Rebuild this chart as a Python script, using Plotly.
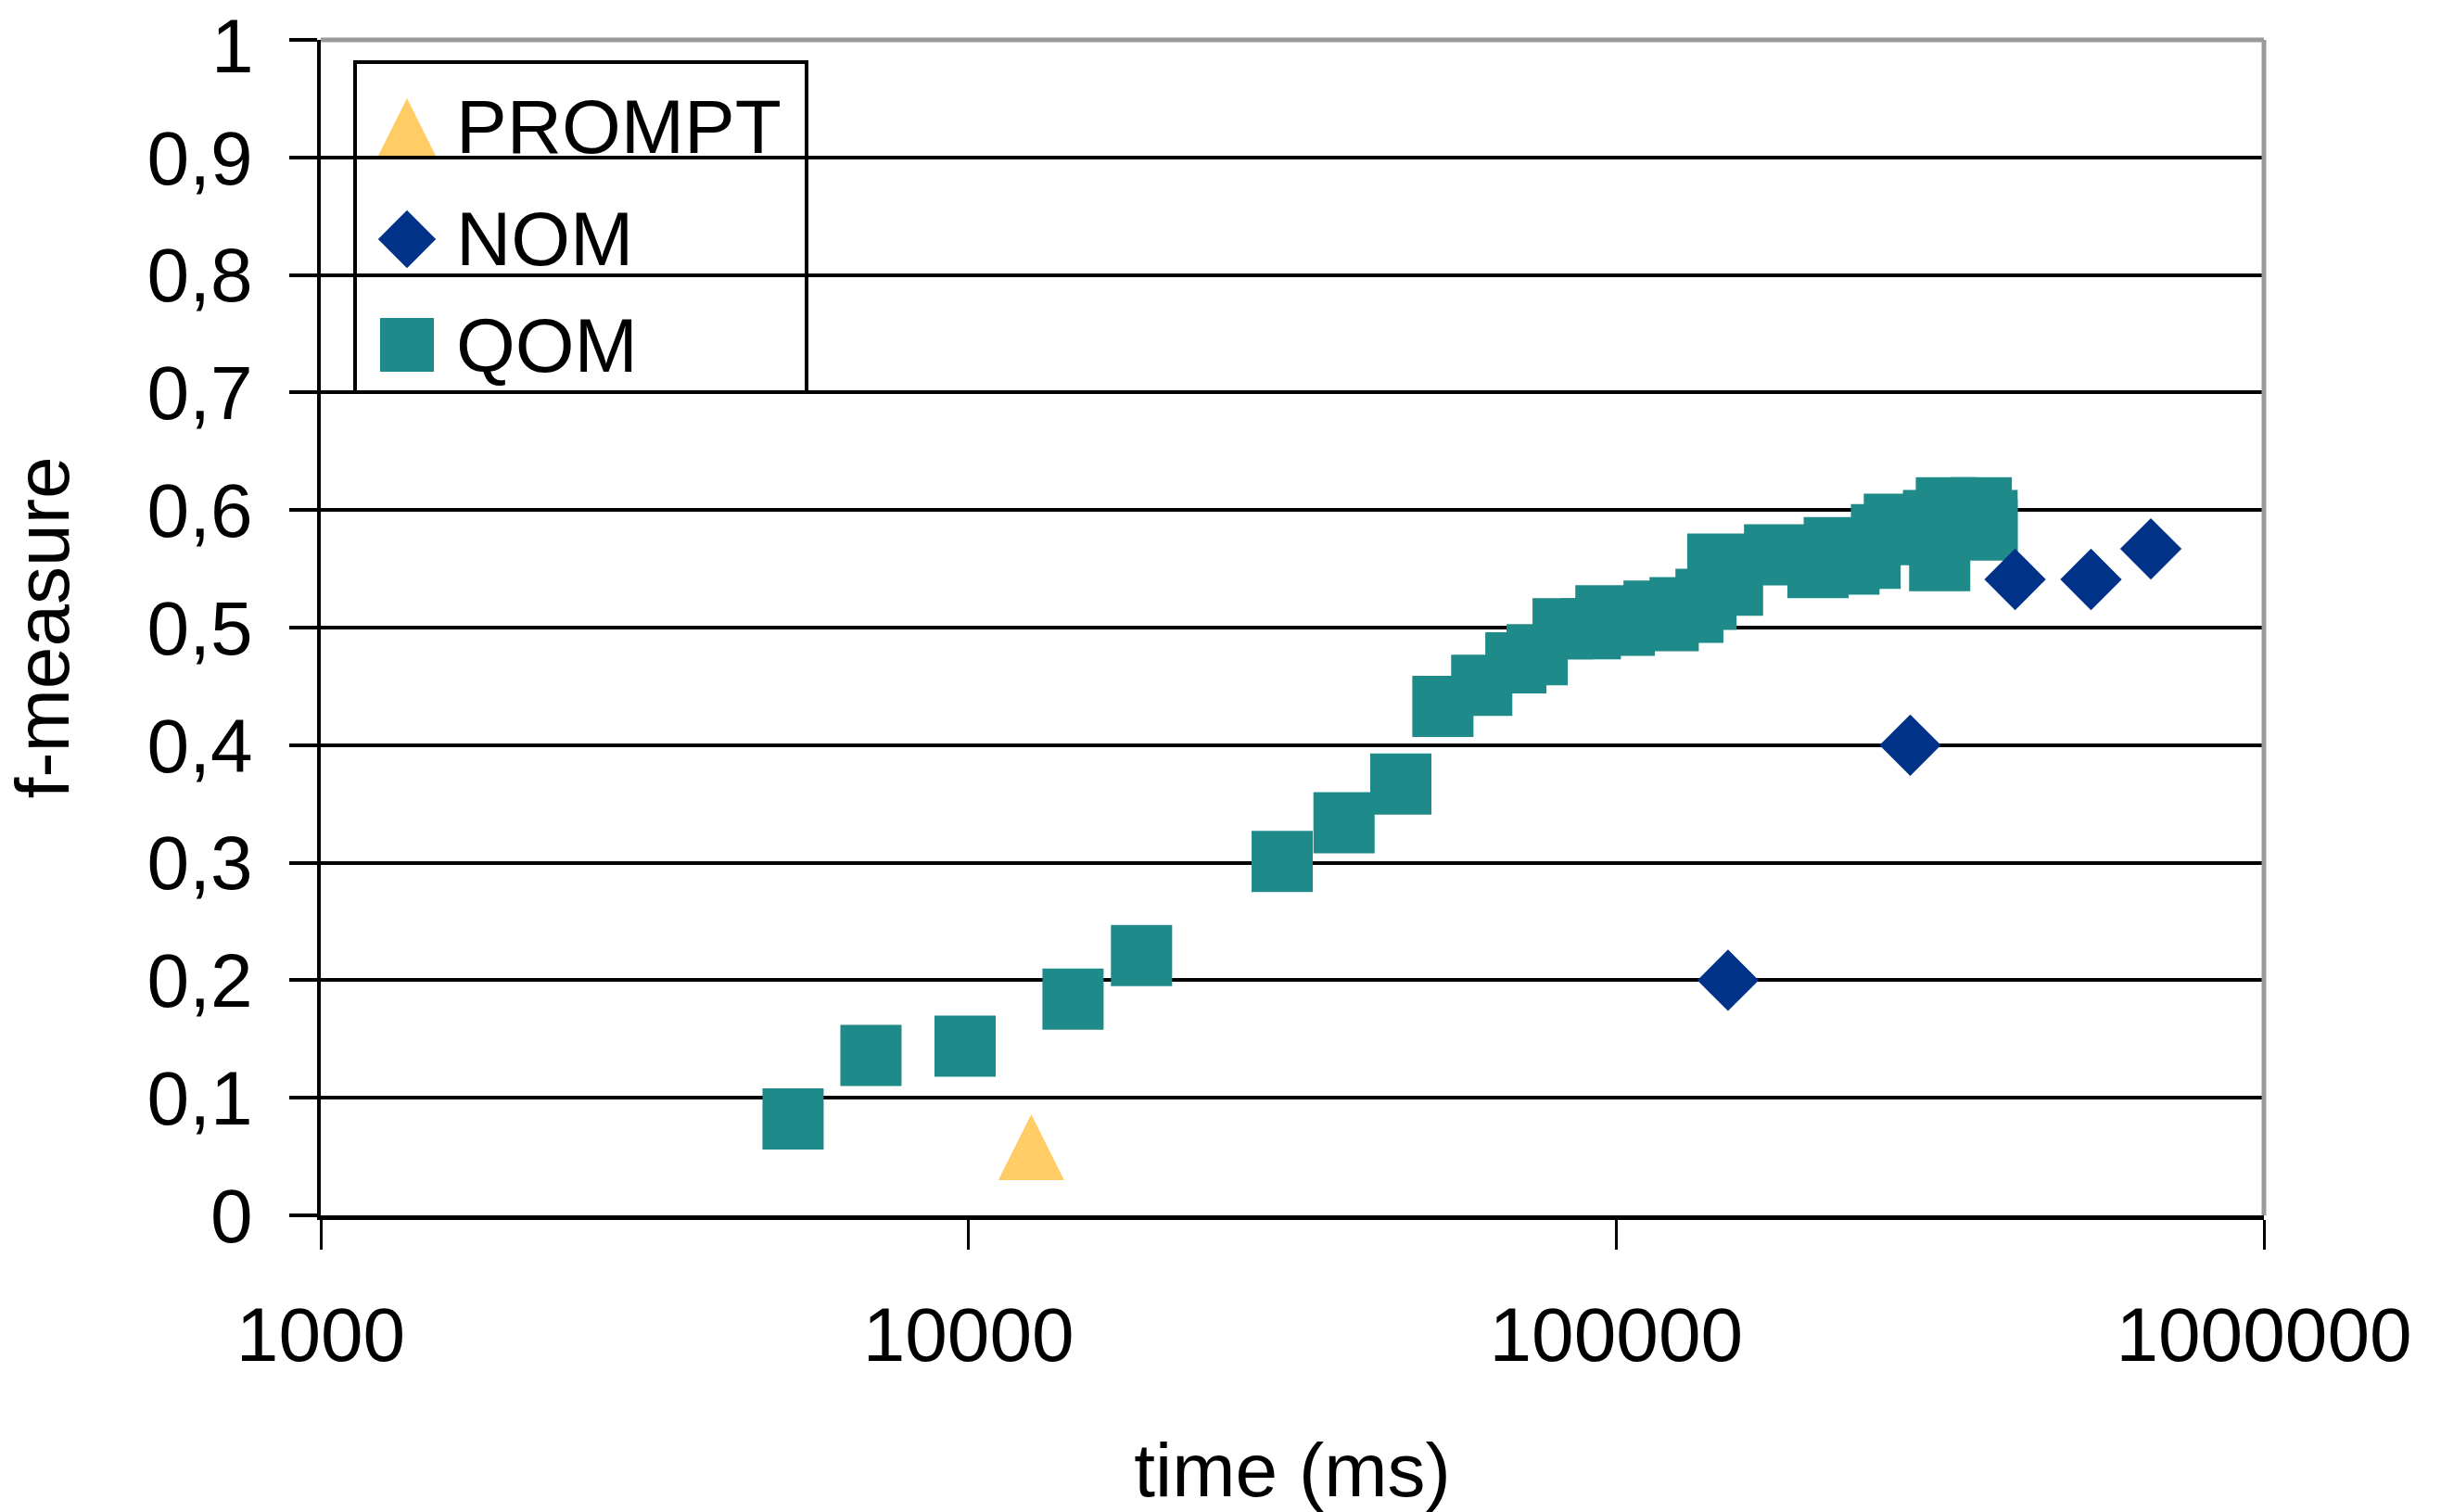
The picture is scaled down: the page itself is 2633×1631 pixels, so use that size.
import plotly.graph_objects as go

# ---------------- data ----------------
prompt_time = [12500]
prompt_f = [0.058]

nom_time = [148800, 284400, 412900, 540800, 669000]
nom_f = [0.20, 0.40, 0.541, 0.541, 0.567]

qom_time = [5360, 7070, 9880, 14500, 18500, 30500, 38000, 46500,
            54000, 62000, 70000, 75500, 82800, 91200, 96400, 102900,
            114400, 120300, 125500, 131300, 137600, 143500, 151200, 175600,
            204900, 217100, 228700, 246600, 256800, 268800, 309000, 315800,
            323400, 366100, 373700, 373700]
qom_f = [0.082, 0.136, 0.144, 0.184, 0.221, 0.301, 0.334, 0.367,
         0.433, 0.451, 0.470, 0.477, 0.499, 0.499, 0.510, 0.502,
         0.514, 0.506, 0.517, 0.513, 0.524, 0.554, 0.536, 0.562,
         0.551, 0.568, 0.554, 0.559, 0.579, 0.588, 0.591, 0.557,
         0.602, 0.602, 0.591, 0.583]

x_tickvals = [1000, 10000, 100000, 1000000]
x_ticktext = ["1000", "10000", "100000", "1000000"]
y_tickvals = [0, 0.1, 0.2, 0.3, 0.4, 0.5, 0.6, 0.7, 0.8, 0.9, 1]
y_ticktext = ["0", "0,1", "0,2", "0,3", "0,4", "0,5", "0,6", "0,7", "0,8", "0,9", "1"]

legend_names = ["PROMPT", "NOM", "QOM"]

# ---------------- styles ----------------
C_PROMPT = "#FFCC66"
C_NOM = "#003387"
C_QOM = "#1F8A8A"
FONT = "Liberation Sans, Arial, sans-serif"
FS = 82

W, H = 2633, 1631
ML, MR, MT, MB = 346, 191, 43, 320
PW, PH = W - ML - MR, H - MT - MB

fig = go.Figure()

fig.add_trace(go.Scatter(x=qom_time, y=qom_f, mode="markers", name="QOM",
                         marker=dict(symbol="square", size=66, color=C_QOM, opacity=1, line=dict(width=0)),
                         showlegend=False))
fig.add_trace(go.Scatter(x=nom_time, y=nom_f, mode="markers", name="NOM",
                         marker=dict(symbol="diamond", size=51, color=C_NOM, opacity=1, line=dict(width=0)),
                         showlegend=False))
# upward triangle centred on the data point (equal width and height, like the original)
fig.add_trace(go.Scatter(x=prompt_time, y=prompt_f, mode="markers", name="PROMPT",
                         marker=dict(symbol="arrow-down", angle=180, size=71, standoff=35.5,
                                     color=C_PROMPT, opacity=1, line=dict(width=0)),
                         showlegend=False))

# ---------- custom legend (pixel overlay axes) ----------
leg_x0, leg_x1, leg_ytop, leg_ybot = 383, 870, 67, 423
leg_rows_y = [137, 258, 372]
leg_marker_x = 439
leg_text_x = 490
leg_symbols = ["arrow-down", "diamond", "square"]
leg_angles = [180, 0, 0]
leg_colors = [C_PROMPT, C_NOM, C_QOM]
leg_sizes = [62, 48, 58]
leg_standoffs = [31, 0, 0]

fig.add_trace(go.Scatter(
    x=[leg_marker_x - ML] * 3,
    y=[H - MB - yy for yy in leg_rows_y],
    xaxis="x2", yaxis="y2", mode="markers", showlegend=False, hoverinfo="skip",
    marker=dict(symbol=leg_symbols, angle=leg_angles, color=leg_colors, size=leg_sizes,
                standoff=leg_standoffs, opacity=1, line=dict(width=0))))

def px_to_paper_x(px):
    return (px - ML) / PW

def px_to_paper_y(py):
    return (H - MB - py) / PH

shapes = [
    dict(type="rect", xref="paper", yref="paper",
         x0=px_to_paper_x(leg_x0), x1=px_to_paper_x(leg_x1),
         y0=px_to_paper_y(leg_ybot), y1=px_to_paper_y(leg_ytop),
         line=dict(color="black", width=4), fillcolor="white", layer="between"),
    dict(type="line", xref="paper", yref="paper", x0=0, x1=1, y0=1, y1=1,
         line=dict(color="#9a9a9a", width=5), layer="above"),
    dict(type="line", xref="paper", yref="paper", x0=1, x1=1, y0=0, y1=1,
         line=dict(color="#9a9a9a", width=5), layer="above"),
]

annotations = []
for name, yy in zip(legend_names, leg_rows_y):
    annotations.append(dict(text=name, xref="paper", yref="paper",
                            x=px_to_paper_x(leg_text_x), y=px_to_paper_y(yy),
                            xanchor="left", yanchor="middle", showarrow=False,
                            font=dict(family=FONT, size=FS, color="black")))
# top tick label "1" (plotly hides the label sitting exactly on the plot edge)
annotations.append(dict(text=y_ticktext[-1], xref="paper", yref="y",
                        x=px_to_paper_x(276), y=y_tickvals[-1], yshift=-6,
                        xanchor="right", yanchor="middle", showarrow=False,
                        font=dict(family=FONT, size=FS, color="black")))

fig.update_layout(
    width=W, height=H,
    margin=dict(l=ML, r=MR, t=MT, b=MB, autoexpand=False),
    paper_bgcolor="white", plot_bgcolor="rgba(0,0,0,0)",
    font=dict(family=FONT, size=FS, color="black"),
    shapes=shapes, annotations=annotations,
    xaxis=dict(type="log", range=[3, 6], tickvals=x_tickvals, ticktext=x_ticktext,
               showgrid=False, zeroline=False, showline=True, linecolor="black", linewidth=5,
               ticks="outside", ticklen=32, tickwidth=3, tickcolor="black",
               ticklabelstandoff=22,
               tickfont=dict(family=FONT, size=FS, color="black"),
               title=dict(text="time (ms)", font=dict(family=FONT, size=FS, color="black"), standoff=78)),
    yaxis=dict(range=[0, 1], tickvals=y_tickvals, ticktext=y_ticktext[:-1] + [""],
               showgrid=True, gridcolor="black", gridwidth=4, zeroline=False,
               showline=True, linecolor="black", linewidth=4,
               ticks="outside", ticklen=30, tickwidth=4, tickcolor="black",
               ticklabelstandoff=23,
               tickfont=dict(family=FONT, size=FS, color="black"),
               title=dict(text="f-measure", font=dict(family=FONT, size=FS, color="black"), standoff=61)),
    xaxis2=dict(range=[0, PW], overlaying="x", anchor="y2", visible=False, fixedrange=True),
    yaxis2=dict(range=[0, PH], overlaying="y", anchor="x2", visible=False, fixedrange=True),
)

fig.write_html("out.html", config={"displayModeBar": False},
               post_script="document.body.style.margin='0px';")
